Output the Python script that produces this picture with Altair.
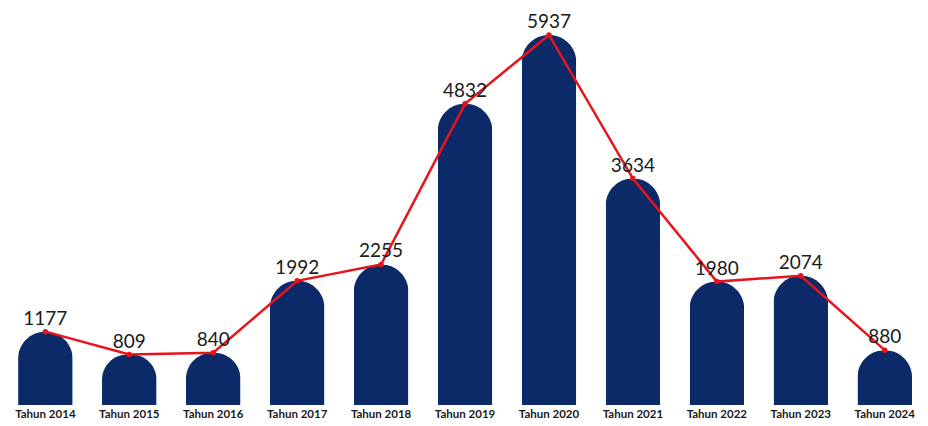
import altair as alt
import pandas as pd

categories = ["Tahun 2014", "Tahun 2015", "Tahun 2016", "Tahun 2017", "Tahun 2018",
              "Tahun 2019", "Tahun 2020", "Tahun 2021", "Tahun 2022", "Tahun 2023", "Tahun 2024"]
values = [1177, 809, 840, 1992, 2255, 4832, 5937, 3634, 1980, 2074, 880]

df = pd.DataFrame({"cat": categories, "val": values})

x = alt.X("cat:N", sort=categories,
          scale=alt.Scale(paddingInner=0.35, paddingOuter=0.06, align=1),
          axis=alt.Axis(title=None, labelAngle=0, domain=False, ticks=False,
                        labelPadding=3, labelFont="Lato", labelFontSize=11.5,
                        labelFontWeight="bold", labelColor="#1a1a1a"))
y = alt.Y("val:Q", scale=alt.Scale(domain=[0, 6370], nice=False, zero=True), axis=None)

base = alt.Chart(df).encode(x=x, y=y)

bars = base.mark_bar(color="#0c2a68", cornerRadiusTopLeft=27, cornerRadiusTopRight=27)
line = base.mark_line(color="#e8141c", strokeWidth=2.5)
pts = base.mark_point(color="#e8141c", filled=True, size=30, opacity=1)
labels = base.mark_text(baseline="bottom", dy=-3, font="Lato", fontSize=19,
                        color="#1a1a1a").encode(text="val:Q")

chart = alt.layer(bars, line, pts, labels).properties(
    width=904, height=397,
    padding={"left": 0, "right": 8, "top": 0, "bottom": 13},
    autosize=alt.AutoSizeParams(type="none"),
    background="white",
).configure_view(stroke=None)

chart.save("out.html", embed_options={"renderer": "svg", "actions": False})
